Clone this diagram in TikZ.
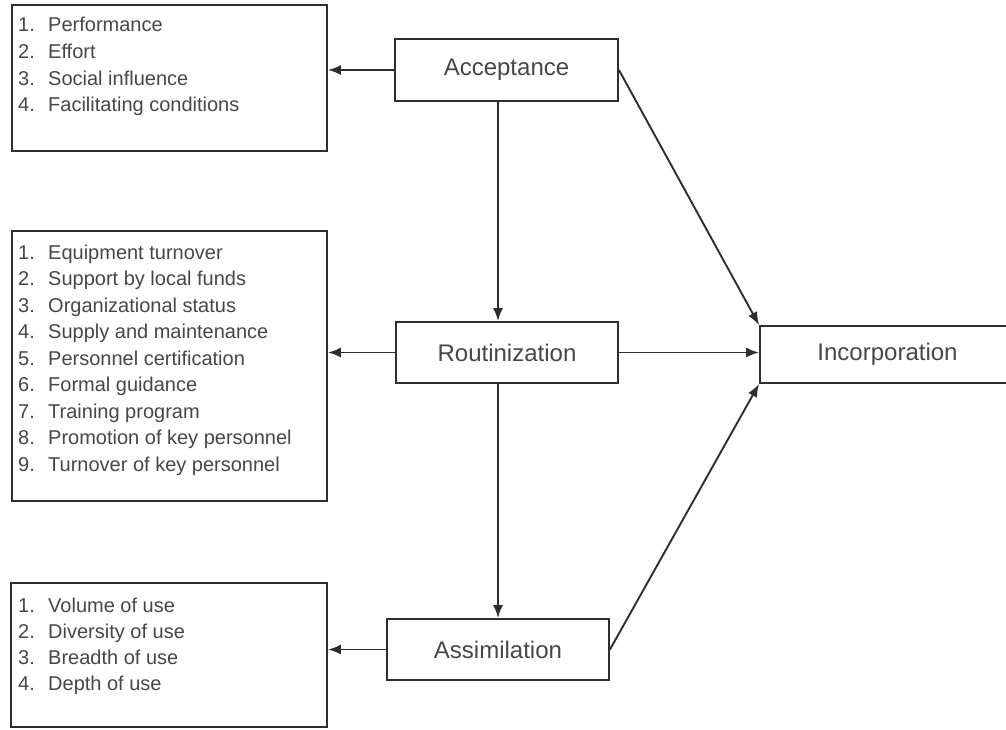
\documentclass[tikz,border=0pt]{standalone}
\usepackage{fontspec}
\setmainfont{Liberation Sans}
\usetikzlibrary{arrows.meta}
\definecolor{txtc}{HTML}{474747}
\definecolor{linec}{HTML}{2E2E2E}
\newcommand{\myitem}[2]{\makebox[30pt][l]{#1}#2}
\begin{document}
\begin{tikzpicture}[x=1pt,y=-1pt,
  box/.style={draw=linec,line width=1.9pt,fill=white,inner sep=0pt},
  stage/.style={box,font=\fontsize{24}{28}\selectfont,text=txtc},
  listtext/.style={anchor=base west,inner sep=0pt,text=txtc,font=\fontsize{20}{26.6}\selectfont},
  arr/.style={draw=linec,line width=1.9pt,-{Latex[length=13pt,width=10pt]}}]
\useasboundingbox (0,0) rectangle (1006,730);
% list boxes
\node[box,minimum width=315pt,minimum height=146pt] (b1) at (169.5,78) {};
\node[box,minimum width=315pt,minimum height=270pt] (b2) at (169.5,366) {};
\node[box,minimum width=316pt,minimum height=144pt] (b3) at (169,655) {};
\node[listtext] (t1) at (18,32) {\parbox[t]{300pt}{%
\myitem{1.}{Performance}\\
\myitem{2.}{Effort}\\
\myitem{3.}{Social influence}\\
\myitem{4.}{Facilitating conditions}}};
\node[listtext,font=\fontsize{20}{26.5}\selectfont] (t2) at (18,259) {\parbox[t]{300pt}{%
\myitem{1.}{Equipment turnover}\\
\myitem{2.}{Support by local funds}\\
\myitem{3.}{Organizational status}\\
\myitem{4.}{Supply and maintenance}\\
\myitem{5.}{Personnel certification}\\
\myitem{6.}{Formal guidance}\\
\myitem{7.}{Training program}\\
\myitem{8.}{Promotion of key personnel}\\
\myitem{9.}{Turnover of key personnel}}};
\node[listtext,font=\fontsize{20}{26}\selectfont] (t3) at (18,612) {\parbox[t]{300pt}{%
\myitem{1.}{Volume of use}\\
\myitem{2.}{Diversity of use}\\
\myitem{3.}{Breadth of use}\\
\myitem{4.}{Depth of use}}};
% stage boxes
\node[stage,minimum width=223pt,minimum height=62pt] (acc) at (506.5,70) {\raisebox{-2pt}{Acceptance}};
\node[stage,minimum width=222pt,minimum height=61pt] (rout) at (507,352.5) {Routinization};
\node[stage,minimum width=222pt,minimum height=61pt] (asm) at (498,649.5) {Assimilation};
\node[stage,minimum width=255pt,minimum height=57pt] (inc) at (887.5,354.5) {Incorporation};
% connectors
\draw[arr] (acc.west) -- (acc.west -| b1.east);
\draw[arr] (rout.west) -- (rout.west -| b2.east);
\draw[arr] (asm.west) -- (asm.west -| b3.east);
\draw[arr] (acc.south -| asm.north) -- (rout.north -| asm.north);
\draw[arr] (rout.south -| asm.north) -- (asm.north);
\draw[arr] (rout.east) -- (rout.east -| inc.west);
\draw[arr] (acc.east) -- (inc.north west);
\draw[arr] (asm.east) -- (inc.south west);
\end{tikzpicture}
\end{document}
